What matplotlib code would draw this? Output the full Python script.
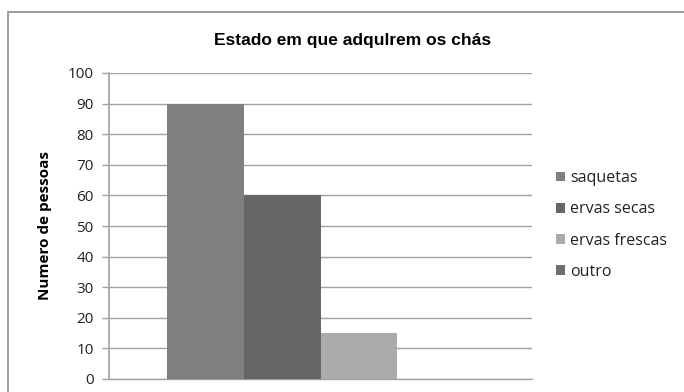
import matplotlib
matplotlib.use("Agg")
import matplotlib.pyplot as plt
from matplotlib.patches import Rectangle

categories = ["saquetas", "ervas secas", "ervas frescas", "outro"]
values = [90, 60, 15, 0]
colors = ["#7f7f7f", "#666666", "#ababab", "#6e6e6e"]
yticks = [0, 10, 20, 30, 40, 50, 60, 70, 80, 90, 100]
title = "Estado em que adqulrem os chás"
ylabel = "Numero de pessoas"

W, H = 684, 392
fig = plt.figure(figsize=(W / 100, H / 100), dpi=100)
fig.patch.set_facecolor("white")

# chart frame (cut off at right and bottom)
fig.patches.append(Rectangle((8 / W, -0.2), 1.2, 1.2 - 12 / H,
                             transform=fig.transFigure, fill=False,
                             edgecolor="#8c8c8c", linewidth=1.2))

ax = fig.add_axes([109 / W, 1 - 379 / H, (532 - 109) / W, (379 - 73) / H])

bar_w = 1.0
n = len(values)
offsets = [(i - (n - 1) / 2) * bar_w for i in range(n)]
for off, v, c, lab in zip(offsets, values, colors, categories):
    ax.bar(off, v, width=bar_w, color=c, label=lab, zorder=3)

ax.set_xlim(-2.75, 2.75)
ax.set_ylim(0, 100)
ax.set_yticks(yticks)
ax.set_xticks([])
ax.yaxis.grid(True, color="#a0a0a0", linewidth=1.0, zorder=0)
ax.set_axisbelow(True)

for s in ["top", "right"]:
    ax.spines[s].set_visible(False)
ax.spines["left"].set_color("#b0b0b0")
ax.spines["left"].set_linewidth(1.5)
ax.spines["bottom"].set_color("#a0a0a0")
ax.spines["bottom"].set_linewidth(1.0)
ax.tick_params(axis="y", length=5, color="#a0a0a0", width=1.0,
               labelsize=11, labelcolor="#222222", pad=6)
for t in ax.get_yticklabels():
    t.set_fontfamily("Open Sans")

ax.set_ylabel(ylabel, fontsize=11, fontweight="bold", family="Open Sans")
ax.yaxis.set_label_coords(-0.135, 0.5)

fig.text(353 / W, 1 - 41 / H, title, ha="center", va="center",
         fontsize=12.5, fontweight="bold", family="Liberation Sans")

leg = ax.legend(loc="center left", bbox_to_anchor=(545 / W, 1 - 225 / H),
                bbox_transform=fig.transFigure, frameon=False,
                prop={"family": "Open Sans", "size": 11.5},
                handlelength=0.55, handleheight=0.55, handletextpad=0.3,
                labelspacing=0.95, borderpad=0.2)
for t in leg.get_texts():
    t.set_color("#222222")

fig.savefig("out.png", dpi=100, facecolor="white")
